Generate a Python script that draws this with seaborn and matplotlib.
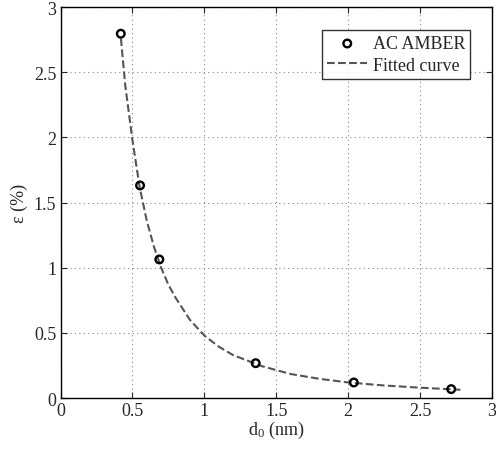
import numpy as np
import pandas as pd
import matplotlib
matplotlib.use("Agg")
import matplotlib.pyplot as plt
import seaborn as sns

# AC AMBER data points
d0 = [0.419, 0.553, 0.687, 1.357, 2.039, 2.716]
strain = [2.796, 1.632, 1.064, 0.268, 0.120, 0.069]

# fitted curve
fit_x = [0.42, 0.45, 0.50, 0.55, 0.60, 0.65, 0.70, 0.75, 0.80, 0.90, 1.00,
         1.10, 1.20, 1.40, 1.60, 1.80, 2.00, 2.25, 2.50, 2.78]
fit_y = [2.76, 2.40, 1.98, 1.62, 1.36, 1.16, 1.00, 0.87, 0.77, 0.60, 0.48,
         0.395, 0.33, 0.245, 0.185, 0.148, 0.120, 0.097, 0.080, 0.064]

df_pts = pd.DataFrame({"d0": d0, "eps": strain})
df_fit = pd.DataFrame({"d0": fit_x, "eps": fit_y})

sns.set_style("ticks")
plt.rcParams["font.family"] = ["Liberation Serif", "DejaVu Serif"]
plt.rcParams["mathtext.fontset"] = "custom"
plt.rcParams["mathtext.rm"] = "Liberation Serif"
plt.rcParams["mathtext.it"] = "Liberation Serif:italic"

fig = plt.figure(figsize=(4.96, 4.52), dpi=100)
ax = fig.add_axes([0.122, 0.117, 0.870, 0.865])

sns.scatterplot(data=df_pts, x="d0", y="eps", ax=ax, marker="o", s=30,
                facecolor="none", edgecolor="black", linewidth=1.7,
                label="AC AMBER", zorder=3)
sns.lineplot(data=df_fit, x="d0", y="eps", ax=ax, color="#555555",
             linestyle="--", linewidth=1.5, dashes=(5.5, 3.5),
             label="Fitted curve", zorder=2)

ax.set_xlim(0, 3)
ax.set_ylim(0, 3)
ax.set_xticks([0, 0.5, 1, 1.5, 2, 2.5, 3])
ax.set_yticks([0, 0.5, 1, 1.5, 2, 2.5, 3])
ax.set_xticklabels(["0", "0.5", "1", "1.5", "2", "2.5", "3"])
ax.set_yticklabels(["0", "0.5", "1", "1.5", "2", "2.5", "3"])
ax.grid(True, linestyle=(0, (1, 3)), color="#888888", linewidth=0.8)
ax.tick_params(direction="in", top=True, right=True, labelsize=13, length=4,
               width=0.8, pad=3)
for sp in ax.spines.values():
    sp.set_visible(True)
    sp.set_linewidth(1.0)
    sp.set_color("black")

ax.set_xlabel(r"d$_{0}$ (nm)", fontsize=13, labelpad=0)
ax.set_ylabel("ε (%)", fontsize=13, labelpad=4)

leg = ax.legend(loc="upper right", bbox_to_anchor=(0.95, 0.942), fontsize=13,
                frameon=True, fancybox=False, edgecolor="black",
                handlelength=2.2, borderpad=0.3, labelspacing=0.25,
                handletextpad=0.3, borderaxespad=0)
leg.get_frame().set_linewidth(1.0)

fig.savefig("out.png", dpi=100)
